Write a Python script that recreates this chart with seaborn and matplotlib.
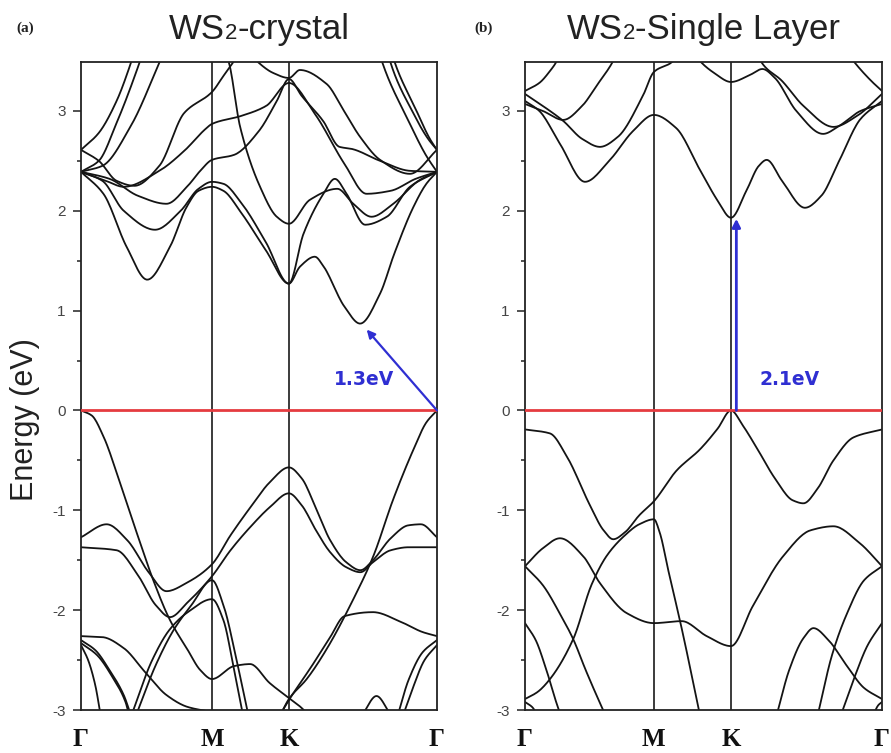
import numpy as np
import pandas as pd
import matplotlib
matplotlib.use("Agg")
import matplotlib.pyplot as plt
import seaborn as sns
from matplotlib.offsetbox import TextArea, HPacker, AnchoredOffsetbox

# ---------------------------------------------------------------
# High-symmetry path labels and node positions (fraction of path)
# ---------------------------------------------------------------
k_labels = ["Γ", "M", "K", "Γ"]
nodes_crystal = [0.0, 0.368, 0.584, 1.0]
nodes_layer = [0.0, 0.361, 0.577, 1.0]

# ---------------------------------------------------------------
# (a) bulk WS2 bands: (k, E[eV]) nodes along Γ-M-K-Γ
# ---------------------------------------------------------------
a_c1 = [(0, 2.39), (0.063, 2.17), (0.128, 1.64), (0.186, 1.31), (0.25, 1.64), (0.297, 2.04),
        (0.33, 2.2), (0.368, 2.24), (0.4, 2.2), (0.45, 1.98), (0.52, 1.6), (0.584, 1.27),
        (0.615, 1.44), (0.657, 1.54), (0.68, 1.45), (0.74, 1.04), (0.784, 0.87), (0.84, 1.17),
        (0.88, 1.57), (0.934, 2.04), (0.97, 2.27), (1.0, 2.39)]
a_c2 = [(0, 2.39), (0.06, 2.3), (0.12, 2.0), (0.208, 1.81), (0.28, 2.0), (0.33, 2.22),
        (0.368, 2.29), (0.4, 2.27), (0.45, 2.08), (0.52, 1.68), (0.584, 1.27), (0.625, 1.77),
        (0.681, 2.17), (0.713, 2.32), (0.746, 2.17), (0.798, 1.86), (0.859, 1.94), (0.924, 2.24),
        (1.0, 2.39)]
a_c3 = [(0, 2.39), (0.08, 2.32), (0.16, 2.15), (0.24, 2.07), (0.3, 2.25), (0.335, 2.4),
        (0.368, 2.51), (0.43, 2.56), (0.5, 2.8), (0.55, 3.1), (0.584, 3.32), (0.62, 3.15),
        (0.68, 2.9), (0.726, 2.64), (0.76, 2.62), (0.84, 2.5), (0.924, 2.4), (1.0, 2.39)]
a_c4 = [(0, 2.39), (0.07, 2.3), (0.12, 2.24), (0.22, 2.4), (0.29, 2.6), (0.35, 2.82),
        (0.368, 2.87), (0.45, 2.95), (0.52, 3.05), (0.584, 3.28), (0.657, 2.97), (0.74, 2.47),
        (0.802, 2.17), (0.87, 2.2), (0.94, 2.32), (1.0, 2.39)]
a_c5 = [(0, 2.61), (0.05, 2.5), (0.1, 2.3), (0.15, 2.25), (0.22, 2.45), (0.29, 2.98),
        (0.368, 3.19), (0.4, 3.35), (0.43, 3.5), (0.45, 3.6)]
a_c6 = [(0.40, 3.6), (0.414, 3.5), (0.447, 2.84), (0.503, 2.24), (0.55, 1.94), (0.584, 1.87),
        (0.643, 2.11), (0.72, 2.22), (0.765, 2.07), (0.816, 1.94), (0.877, 2.07), (0.952, 2.31),
        (1.0, 2.39)]
a_c7 = [(0.47, 3.6), (0.5, 3.48), (0.54, 3.38), (0.584, 3.33), (0.615, 3.41), (0.69, 3.27),
        (0.737, 3.01), (0.784, 2.74), (0.84, 2.51), (0.924, 2.37), (1.0, 2.61)]
a_s1 = [(0, 2.61), (0.05, 2.78), (0.1, 3.1), (0.142, 3.5), (0.16, 3.7)]
a_s2 = [(0, 2.39), (0.05, 2.5), (0.1, 2.88), (0.166, 3.5), (0.18, 3.65)]
a_s3 = [(0, 2.39), (0.06, 2.45), (0.14, 2.85), (0.222, 3.5), (0.24, 3.65)]
a_s4 = [(0.83, 3.7), (0.845, 3.5), (0.92, 2.9), (0.97, 2.55), (1.0, 2.39)]
a_s5 = [(0.855, 3.7), (0.868, 3.5), (0.93, 3.0), (0.975, 2.72), (1.0, 2.61)]
a_s6 = [(0.865, 3.7), (0.88, 3.5), (0.94, 3.02), (0.98, 2.72), (1.0, 2.61)]

a_v1 = [(0, 0.0), (0.03, -0.05), (0.063, -0.26), (0.11, -0.73), (0.157, -1.23), (0.203, -1.7),
        (0.25, -2.1), (0.3, -2.4), (0.335, -2.6), (0.368, -2.69), (0.43, -2.56), (0.475, -2.54),
        (0.53, -2.73), (0.584, -2.88), (0.62, -2.98), (0.65, -3.1)]
a_v2 = [(0, -1.27), (0.072, -1.14), (0.13, -1.3), (0.19, -1.62), (0.24, -1.81), (0.3, -1.72),
        (0.368, -1.54), (0.42, -1.25), (0.48, -0.95), (0.53, -0.72), (0.584, -0.57), (0.62, -0.68),
        (0.66, -0.98), (0.7, -1.3), (0.745, -1.52), (0.785, -1.6), (0.82, -1.5), (0.87, -1.28),
        (0.92, -1.15), (0.955, -1.14), (1.0, -1.27)]
a_v3 = [(0, -1.37), (0.1, -1.4), (0.16, -1.65), (0.21, -1.95), (0.25, -2.07), (0.3, -1.92),
        (0.368, -1.66), (0.42, -1.4), (0.48, -1.15), (0.53, -0.97), (0.584, -0.83), (0.62, -0.95),
        (0.66, -1.2), (0.7, -1.42), (0.745, -1.57), (0.785, -1.62), (0.82, -1.52), (0.87, -1.4),
        (0.92, -1.37), (1.0, -1.37)]
a_v4 = [(0, -2.26), (0.06, -2.27), (0.12, -2.38), (0.18, -2.62), (0.24, -2.85), (0.3, -2.97),
        (0.368, -3.02)]
a_v5 = [(0.142, -3.05), (0.2, -2.5), (0.25, -2.19), (0.3, -2.02), (0.368, -1.89), (0.4, -2.1),
        (0.43, -2.6), (0.455, -3.05)]
a_v6 = [(0.155, -3.05), (0.21, -2.55), (0.26, -2.2), (0.31, -1.95), (0.368, -1.7), (0.4, -1.95),
        (0.44, -2.55), (0.47, -3.05)]
a_v7 = [(0, -2.3), (0.04, -2.4), (0.08, -2.6), (0.12, -2.85), (0.14, -3.05)]
a_v8 = [(0, -2.35), (0.02, -2.5), (0.04, -2.75), (0.055, -3.05)]
a_v9 = [(0, -2.33), (0.045, -2.45), (0.09, -2.68), (0.125, -2.92), (0.135, -3.05)]
a_v10 = [(0.55, -3.1), (0.584, -2.9), (0.65, -2.55), (0.7, -2.27), (0.74, -2.06), (0.82, -2.02),
         (0.9, -2.12), (0.96, -2.22), (1.0, -2.26)]
a_v11 = [(0.56, -3.05), (0.584, -2.89), (0.634, -2.69), (0.69, -2.39), (0.765, -1.89),
         (0.821, -1.46), (0.877, -0.89), (0.934, -0.39), (0.97, -0.12), (1.0, 0.0)]
a_v12 = [(0.89, -3.05), (0.92, -2.7), (0.96, -2.42), (1.0, -2.3)]
a_v13 = [(0.905, -3.05), (0.93, -2.8), (0.965, -2.5), (1.0, -2.35)]
a_v14 = [(0.79, -3.05), (0.83, -2.86), (0.87, -3.05)]

# ---------------------------------------------------------------
# (b) monolayer WS2 bands
# ---------------------------------------------------------------
b_c1 = [(0, 3.1), (0.04, 3.0), (0.098, 2.67), (0.168, 2.29), (0.238, 2.51), (0.303, 2.8),
        (0.361, 2.96), (0.423, 2.83), (0.49, 2.41), (0.54, 2.1), (0.577, 1.93), (0.62, 2.2),
        (0.655, 2.45), (0.677, 2.51), (0.72, 2.3), (0.784, 2.03), (0.83, 2.15), (0.88, 2.5),
        (0.94, 2.92), (1.0, 3.1)]
b_c2 = [(0, 3.17), (0.05, 3.05), (0.107, 2.9), (0.16, 2.72), (0.21, 2.64), (0.26, 2.74),
        (0.33, 3.15), (0.361, 3.39), (0.415, 3.5), (0.43, 3.6)]
b_c3 = [(0, 3.07), (0.05, 3.0), (0.107, 2.91), (0.16, 3.05), (0.2, 3.25), (0.247, 3.5), (0.26, 3.6)]
b_c4 = [(0, 3.2), (0.04, 3.28), (0.07, 3.4), (0.089, 3.5), (0.1, 3.6)]
b_c5 = [(0.47, 3.6), (0.49, 3.5), (0.53, 3.38), (0.577, 3.29), (0.63, 3.36), (0.665, 3.42),
        (0.7, 3.33), (0.76, 3.0), (0.835, 2.77), (0.88, 2.85), (0.94, 3.0), (1.0, 3.07)]
b_c6 = [(0.65, 3.6), (0.66, 3.5), (0.72, 3.3), (0.78, 3.05), (0.864, 2.84), (0.93, 2.95),
        (1.0, 3.17)]
b_c7 = [(0.9, 3.6), (0.92, 3.5), (0.97, 3.3), (1.0, 3.2)]

b_v1 = [(0, -0.19), (0.07, -0.23), (0.117, -0.46), (0.182, -0.95), (0.22, -1.2), (0.247, -1.29),
        (0.28, -1.22), (0.32, -1.05), (0.361, -0.91), (0.425, -0.6), (0.49, -0.39), (0.54, -0.18),
        (0.577, 0.0), (0.61, -0.15), (0.65, -0.38), (0.7, -0.68), (0.75, -0.9), (0.78, -0.93),
        (0.82, -0.78), (0.864, -0.5), (0.92, -0.27), (1.0, -0.19)]
b_v2 = [(0, -2.89), (0.035, -2.82), (0.07, -2.69), (0.135, -2.29), (0.187, -1.74), (0.23, -1.45),
        (0.28, -1.25), (0.32, -1.14), (0.361, -1.09), (0.378, -1.23), (0.4, -1.58), (0.44, -2.2),
        (0.49, -3.05)]
b_v3 = [(0, -1.56), (0.05, -1.38), (0.098, -1.28), (0.163, -1.46), (0.21, -1.73), (0.285, -2.03),
        (0.361, -2.13), (0.439, -2.11), (0.509, -2.26), (0.577, -2.36), (0.638, -1.96),
        (0.723, -1.46), (0.8, -1.2), (0.864, -1.16), (0.938, -1.33), (1.0, -1.56)]
b_v4 = [(0, -1.56), (0.05, -1.75), (0.1, -2.05), (0.135, -2.29), (0.17, -2.6), (0.2, -2.85),
        (0.225, -3.05)]
b_v5 = [(0, -2.13), (0.03, -2.3), (0.06, -2.6), (0.09, -2.95), (0.1, -3.05)]
b_v6 = [(0, -2.92), (0.02, -2.97), (0.035, -3.05)]
b_v7 = [(0.705, -3.05), (0.74, -2.6), (0.78, -2.28), (0.808, -2.18), (0.85, -2.3), (0.9, -2.55),
        (0.95, -2.78), (1.0, -2.89)]
b_v8 = [(0.82, -3.05), (0.86, -2.45), (0.9, -2.05), (0.95, -1.7), (1.0, -1.56)]
b_v9 = [(0.885, -3.05), (0.92, -2.7), (0.96, -2.35), (1.0, -2.13)]
b_v10 = [(0.975, -3.05), (0.99, -2.95), (1.0, -2.92)]

bands_crystal = [a_c1, a_c2, a_c3, a_c4, a_c5, a_c6, a_c7, a_s1, a_s2, a_s3, a_s4, a_s5, a_s6,
                 a_v1, a_v2, a_v3, a_v4, a_v5, a_v6, a_v7, a_v8, a_v9, a_v10, a_v11, a_v12,
                 a_v13, a_v14]
bands_layer = [b_c1, b_c2, b_c3, b_c4, b_c5, b_c6, b_c7,
               b_v1, b_v2, b_v3, b_v4, b_v5, b_v6, b_v7, b_v8, b_v9, b_v10]

# gap annotations: (arrow start k, E), (arrow end k, E), label
gap_crystal = ((1.0, 0.0), (0.8025, 0.81), "1.3eV")
gap_layer = ((0.592, 0.0), (0.592, 1.92), "2.1eV")
gap_label_pos = [(0.795, 0.31), (0.742, 0.31)]

titles = [("WS", "2", "-crystal"), ("WS", "2", "-Single Layer")]
panel_tags = ["(a)", "(b)"]


def smooth_band(points, n=240):
    """Shape-preserving cubic (PCHIP) through the band nodes."""
    pts = np.asarray(points, dtype=float)
    x, y = pts[:, 0], pts[:, 1]
    h = np.diff(x)
    d = np.diff(y) / h
    m = np.zeros_like(y)
    m[0], m[-1] = d[0], d[-1]
    for i in range(1, len(x) - 1):
        if d[i - 1] * d[i] > 0:
            w1 = 2 * h[i] + h[i - 1]
            w2 = h[i] + 2 * h[i - 1]
            m[i] = (w1 + w2) / (w1 / d[i - 1] + w2 / d[i])
    xs = np.linspace(x[0], x[-1], n)
    idx = np.clip(np.searchsorted(x, xs, side="right") - 1, 0, len(h) - 1)
    t = (xs - x[idx]) / h[idx]
    h00 = 2 * t**3 - 3 * t**2 + 1
    h10 = t**3 - 2 * t**2 + t
    h01 = -2 * t**3 + 3 * t**2
    h11 = t**3 - t**2
    ys = h00 * y[idx] + h10 * h[idx] * m[idx] + h01 * y[idx + 1] + h11 * h[idx] * m[idx + 1]
    return xs, ys


def band_frame(bands):
    rows = []
    for i, b in enumerate(bands):
        xs, ys = smooth_band(b)
        rows.append(pd.DataFrame({"k": xs, "E": ys, "band": i}))
    return pd.concat(rows, ignore_index=True)


sns.set_style("ticks")
plt.rcParams["font.family"] = ["Liberation Sans", "DejaVu Sans"]

W, H = 891, 753
fig = plt.figure(figsize=(W / 100, H / 100), dpi=100)
ax_a = fig.add_axes([81 / W, 43 / H, 356 / W, 648 / H])
ax_b = fig.add_axes([525 / W, 43 / H, 357 / W, 648 / H])

blue = "#2f2fd2"
serif = ["Liberation Serif", "DejaVu Serif"]

for ax, bands, nodes, gap, lab_pos, title, tag, tag_x in zip(
        [ax_a, ax_b], [bands_crystal, bands_layer], [nodes_crystal, nodes_layer],
        [gap_crystal, gap_layer], gap_label_pos, titles, panel_tags, [25, 484]):
    df = band_frame(bands)
    sns.lineplot(data=df, x="k", y="E", units="band", estimator=None, sort=False,
                 color="#141414", linewidth=1.3, ax=ax, legend=False, zorder=2)
    for xv in nodes[1:3]:
        ax.axvline(xv, color="#1a1a1a", lw=1.2, zorder=1)
    ax.axhline(0, color="#e53b40", lw=2.0, zorder=3)

    (x0, y0), (x1, y1), txt = gap
    ax.annotate("", xy=(x1, y1), xytext=(x0, y0),
                arrowprops=dict(arrowstyle="-|>", color=blue, lw=2.0 if x0 == x1 else 1.6,
                                mutation_scale=12, shrinkA=0, shrinkB=0), zorder=4)
    ax.text(lab_pos[0], lab_pos[1], txt, color=blue, fontsize=13.5, fontweight="bold",
            family=["DejaVu Sans"], ha="center", va="center", zorder=5)

    ax.set_xlim(0, 1)
    ax.set_ylim(-3, 3.49)
    ax.set_xlabel("")
    ax.set_ylabel("")
    ax.set_xticks(nodes)
    ax.set_xticklabels(k_labels, family=serif, fontsize=18, fontweight="bold", color="#111")
    ax.tick_params(axis="x", length=0, pad=13)
    ax.set_yticks(np.arange(-3, 4))
    ax.set_yticklabels([str(v) for v in range(-3, 4)], fontsize=11, color="#444444")
    ax.set_yticks(np.arange(-2.5, 3.0, 1.0), minor=True)
    ax.tick_params(axis="y", which="major", direction="out", length=6, width=1.2, pad=5,
                   colors="#333333", labelcolor="#444444")
    ax.tick_params(axis="y", which="minor", direction="out", length=3, width=1.2,
                   colors="#333333")
    for sp in ax.spines.values():
        sp.set_visible(True)
        sp.set_linewidth(1.3)
        sp.set_color("#222222")

    # title with a smaller, baseline-aligned formula digit
    main, digit, rest = title
    parts = [TextArea(main, textprops=dict(fontsize=25, color="#222222")),
             TextArea(digit, textprops=dict(fontsize=16, color="#222222")),
             TextArea(rest, textprops=dict(fontsize=25, color="#222222"))]
    box = HPacker(children=parts, align="baseline", pad=0, sep=0)
    anchored = AnchoredOffsetbox(loc="lower center", child=box, frameon=False, pad=0,
                                 borderpad=0, bbox_to_anchor=(0.5, 1.0 + 16 / 648),
                                 bbox_transform=ax.transAxes)
    ax.add_artist(anchored)

    fig.text(tag_x / W, 1 - 28 / H, tag, family=serif, fontweight="bold", fontsize=11,
             ha="center", va="center", color="#222222")

fig.text(25 / W, 1 - 420 / H, "Energy (eV)", rotation=90, fontsize=22, color="#222222",
         ha="center", va="center")

fig.savefig("out.png", dpi=100)
